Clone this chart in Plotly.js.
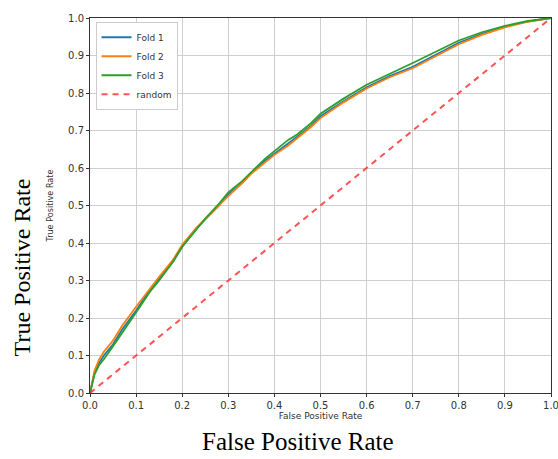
<!DOCTYPE html>
<html>
<head>
<meta charset="utf-8">
<script src="https://cdn.plot.ly/plotly-3.0.1.min.js"></script>
<style>html,body{margin:0;padding:0;background:#fff;}#chart{width:558px;height:459px;}</style>
</head>
<body>
<div id="chart"></div>
<script>
const fpr = [0, 0.005, 0.01, 0.02, 0.03, 0.05, 0.07, 0.1, 0.13, 0.15, 0.18, 0.2, 0.23, 0.25, 0.28, 0.3, 0.33, 0.35, 0.38, 0.4, 0.43, 0.45, 0.48, 0.5, 0.55, 0.6, 0.65, 0.7, 0.75, 0.8, 0.85, 0.9, 0.95, 1.0];
const tprFold1 = [0, 0.03, 0.055, 0.08, 0.1, 0.13, 0.17, 0.22, 0.275, 0.305, 0.35, 0.39, 0.437, 0.463, 0.5, 0.53, 0.56, 0.587, 0.62, 0.638, 0.665, 0.684, 0.713, 0.738, 0.778, 0.815, 0.845, 0.87, 0.902, 0.934, 0.958, 0.977, 0.991, 1.0];
const tprFold2 = [0, 0.035, 0.06, 0.09, 0.11, 0.14, 0.18, 0.23, 0.28, 0.31, 0.355, 0.395, 0.44, 0.465, 0.5, 0.525, 0.56, 0.585, 0.615, 0.635, 0.66, 0.68, 0.71, 0.733, 0.775, 0.812, 0.842, 0.866, 0.898, 0.93, 0.955, 0.975, 0.99, 1.0];
const tprFold3 = [0, 0.03, 0.05, 0.075, 0.09, 0.125, 0.16, 0.215, 0.27, 0.3, 0.35, 0.39, 0.435, 0.465, 0.505, 0.535, 0.565, 0.59, 0.625, 0.645, 0.675, 0.69, 0.72, 0.745, 0.785, 0.822, 0.85, 0.88, 0.91, 0.94, 0.962, 0.979, 0.992, 1.0];
const randomX = [0, 1];
const randomY = [0, 1];
const seriesNames = ["Fold 1", "Fold 2", "Fold 3", "random"];
const tickVals = [0, 0.1, 0.2, 0.3, 0.4, 0.5, 0.6, 0.7, 0.8, 0.9, 1.0];
const tickText = ["0.0", "0.1", "0.2", "0.3", "0.4", "0.5", "0.6", "0.7", "0.8", "0.9", "1.0"];

const traces = [
  {x: fpr, y: tprFold1, name: seriesNames[0], mode: "lines", line: {color: "#1f77b4", width: 1.8}},
  {x: fpr, y: tprFold2, name: seriesNames[1], mode: "lines", line: {color: "#ff7f0e", width: 1.8}},
  {x: fpr, y: tprFold3, name: seriesNames[2], mode: "lines", line: {color: "#2ca02c", width: 1.8}},
  {x: randomX, y: randomY, name: seriesNames[3], mode: "lines", line: {color: "rgba(255,40,40,0.8)", width: 2, dash: "6px,5px"}}
];

const axisCommon = {
  range: [0, 1], tickvals: tickVals, ticktext: tickText,
  showgrid: true, gridcolor: "#cfcfcf", gridwidth: 1,
  showline: true, mirror: true, linecolor: "#333", linewidth: 1,
  ticks: "outside", ticklen: 3, tickcolor: "#333",
  tickfont: {family: "DejaVu Sans", size: 10, color: "#333"},
  ticklabeloverflow: "allow",
  zeroline: false, fixedrange: true
};

const layout = {
  width: 558, height: 459,
  margin: {l: 90, r: 7, t: 18, b: 66},
  paper_bgcolor: "#fff", plot_bgcolor: "#fff",
  showlegend: true,
  legend: {x: 0.012, y: 0.99, xanchor: "left", yanchor: "top", bgcolor: "#fff", bordercolor: "#ccc", borderwidth: 1,
           font: {family: "DejaVu Sans", size: 9, color: "#333"}, itemwidth: 30, tracegroupgap: 0},
  xaxis: Object.assign({}, axisCommon, {title: {text: "False Positive Rate", font: {family: "DejaVu Sans", size: 9, color: "#333"}, standoff: 2}}),
  yaxis: Object.assign({}, axisCommon, {title: {text: "True Positive Rate", font: {family: "DejaVu Sans Condensed, DejaVu Sans", size: 9, color: "#333"}, standoff: 12}}),
  annotations: [
    {text: "True Positive Rate", xref: "paper", yref: "paper", x: -0.1475, y: 0.335, xanchor: "center", yanchor: "middle", textangle: -90, showarrow: false,
     font: {family: "Liberation Serif", size: 24, color: "#000"}},
    {text: "False Positive Rate", xref: "paper", yref: "paper", x: 0.452, y: -0.128, xanchor: "center", yanchor: "middle", showarrow: false,
     font: {family: "Liberation Serif", size: 25, color: "#000"}}
  ]
};

Plotly.newPlot("chart", traces, layout, {staticPlot: true, displayModeBar: false});
</script>
</body>
</html>
